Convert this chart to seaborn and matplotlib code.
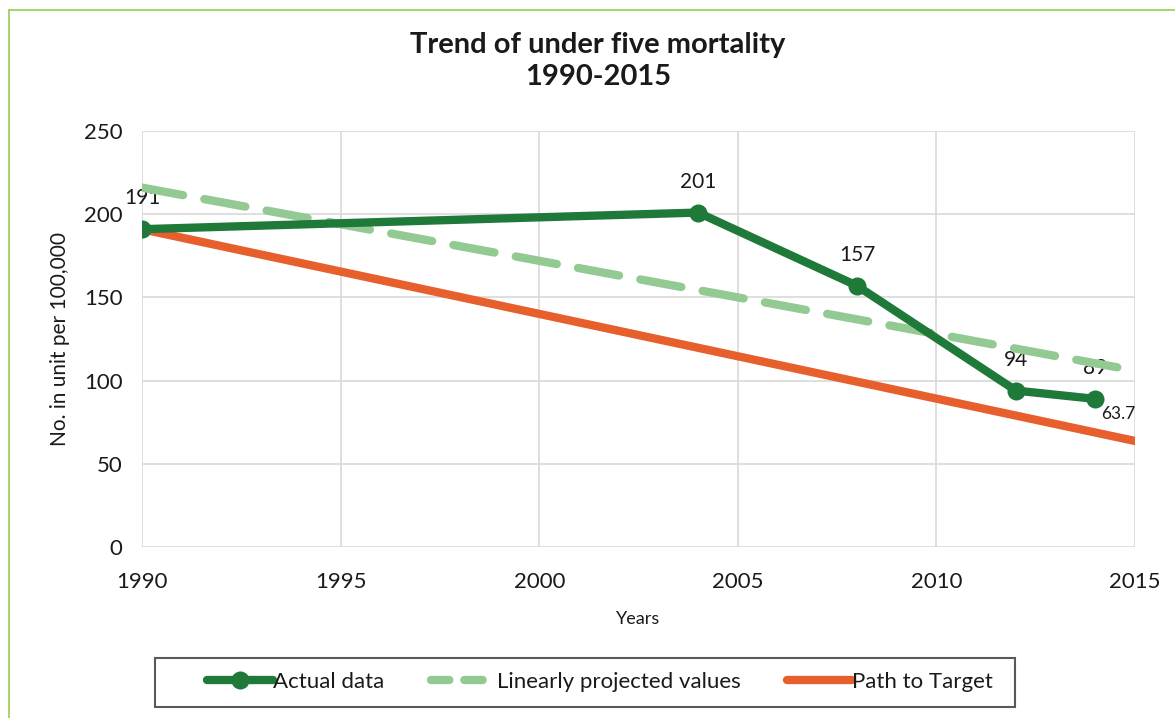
import matplotlib
matplotlib.use("Agg")
import matplotlib.pyplot as plt
import seaborn as sns
import pandas as pd
from matplotlib.lines import Line2D
from matplotlib.patches import Rectangle

sns.set_theme(style="white")
plt.rcParams["font.family"] = ["Lato", "DejaVu Sans"]

# Series
actual_years = [1990, 2004, 2008, 2012, 2014]
actual_values = [191, 201, 157, 94, 89]
projected_years = [1990, 2015]
projected_values = [216, 106]
target_years = [1990, 2015]
target_values = [191, 63.7]

x_ticks = [1990, 1995, 2000, 2005, 2010, 2015]
y_ticks = [0, 50, 100, 150, 200, 250]

c_actual = "#1f7a3a"
c_proj = "#93c993"
c_target = "#e65f2c"
c_text = "#1a1a1a"

actual = pd.DataFrame({"year": actual_years, "value": actual_values})
projected = pd.DataFrame({"year": projected_years, "value": projected_values})
target = pd.DataFrame({"year": target_years, "value": target_values})

fig = plt.figure(figsize=(11.75, 7.18), dpi=100)
ax = fig.add_axes([0.1209, 0.2382, 0.8451, 0.5793])

sns.lineplot(data=projected, x="year", y="value", ax=ax, color=c_proj,
             linewidth=6, linestyle=(0, (5, 2.6)), dash_capstyle="round",
             label="Linearly projected values", zorder=2)
sns.lineplot(data=target, x="year", y="value", ax=ax, color=c_target,
             linewidth=6, solid_capstyle="round", label="Path to Target", zorder=3)
sns.lineplot(data=actual, x="year", y="value", ax=ax, color=c_actual,
             linewidth=6, marker="o", markersize=13, markeredgewidth=0,
             label="Actual data", zorder=4)

# Data labels
for yr, v in zip(actual_years, actual_values):
    ax.annotate(f"{v:g}", (yr, v), xytext=(0, 15), textcoords="offset points",
                ha="center", va="bottom", fontsize=15, color=c_text, zorder=1)
ax.annotate(f"{target_values[-1]:g}", (target_years[-1], target_values[-1]),
            xytext=(-12, 14), textcoords="offset points", ha="center",
            va="bottom", fontsize=12.5, color=c_text)

ax.set_xlim(1990, 2015)
ax.set_ylim(0, 250)
ax.set_xticks(x_ticks)
ax.set_yticks(y_ticks)
ax.set_xticklabels([str(t) for t in x_ticks], fontsize=16, color=c_text)
ax.set_yticklabels([str(t) for t in y_ticks], fontsize=16, color=c_text)
ax.tick_params(axis="x", pad=18, length=0)
ax.tick_params(axis="y", pad=14, length=0)
ax.grid(True, color="#d9d9d9", linewidth=1.2)
for s in ax.spines.values():
    s.set_visible(False)
ax.set_xlabel("Years", fontsize=13, color=c_text, labelpad=14)
ax.set_ylabel("No. in unit per 100,000", fontsize=15, color=c_text, labelpad=10)

fig.text(0.509, 0.938, "Trend of under five mortality", ha="center", va="center",
         fontsize=21, fontweight="bold", color=c_text)
fig.text(0.509, 0.893, "1990-2015", ha="center", va="center",
         fontsize=21, fontweight="bold", color=c_text)

handles, labels = ax.get_legend_handles_labels()
order = [labels.index("Actual data"), labels.index("Linearly projected values"),
         labels.index("Path to Target")]
ax.get_legend().remove()
leg = fig.legend([handles[i] for i in order], [labels[i] for i in order],
                 loc="center", bbox_to_anchor=(0.511, 0.05), ncol=3,
                 frameon=False, fontsize=16, handlelength=2.95, handletextpad=0.0,
                 columnspacing=2.1)
for t in leg.get_texts():
    t.set_color(c_text)
# Shorter dashes for the projected-values legend sample
leg.get_lines()[1].set_dashes((2.2, 1.8))

# Legend box
fig.add_artist(Rectangle((0.1319, 0.0153), 0.7319, 0.0683, transform=fig.transFigure,
                         fill=False, edgecolor="#595959", linewidth=1.5))

# Outer frame lines
fig.add_artist(Line2D([0.0077, 1.0], [0.986, 0.986], transform=fig.transFigure,
                      color="#92d050", linewidth=1.2))
fig.add_artist(Line2D([0.0077, 0.0077], [0.0, 0.986], transform=fig.transFigure,
                      color="#92d050", linewidth=1.2))

fig.savefig("out.png", dpi=100)
